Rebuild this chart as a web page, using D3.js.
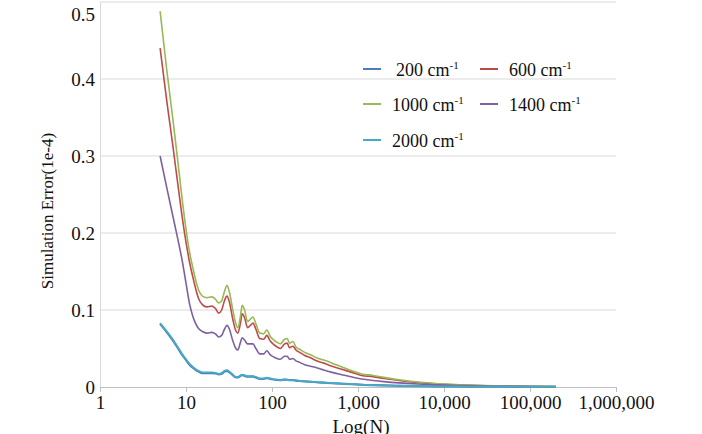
<!DOCTYPE html>
<html><head><meta charset="utf-8">
<script src="https://cdn.jsdelivr.net/npm/d3@7"></script>
<style>
html,body{margin:0;padding:0;background:#fff;}
svg text{font-family:"Liberation Serif","Times New Roman",serif;fill:#111;}
</style></head>
<body><svg id="chart" width="702" height="434"></svg>
<script>
const sampleN = [5,6,7,8,9,10,11,12,13,14,15.5,17.5,20,22,24,26,28,30,32,35,38,40,43,45,48,52,56,60,65,72,80,87,95,105,115,125,140,150,160,175,190,210,240,280,330,400,500,650,850,1100,1500,2000,3000,5000,8000,15000,30000,60000,120000,200000];
const s200 = [0.082,0.071,0.061,0.051,0.042,0.035,0.029,0.025,0.022,0.020,0.018,0.018,0.018,0.0178,0.0165,0.0172,0.020,0.021,0.019,0.0155,0.0125,0.0125,0.0145,0.0155,0.0145,0.0135,0.0135,0.0135,0.0125,0.0105,0.0105,0.0115,0.0105,0.0097,0.0092,0.0088,0.0095,0.0094,0.0088,0.0088,0.0083,0.0078,0.0073,0.0068,0.0062,0.0056,0.0049,0.0042,0.0036,0.0029,0.0024,0.002,0.0015,0.0011,0.0009,0.0007,0.0005,0.0004,0.0003,0.0003];
const s600 = [0.44,0.37,0.315,0.265,0.222,0.188,0.162,0.143,0.127,0.115,0.107,0.104,0.105,0.102,0.096,0.100,0.112,0.118,0.110,0.088,0.073,0.070,0.083,0.095,0.090,0.077,0.080,0.083,0.075,0.063,0.062,0.067,0.060,0.055,0.052,0.050,0.056,0.057,0.051,0.053,0.048,0.045,0.041,0.038,0.034,0.031,0.027,0.023,0.019,0.015,0.0135,0.011,0.0085,0.0058,0.004,0.0027,0.0017,0.0011,0.0007,0.0005];
const s1000 = [0.488,0.41,0.35,0.295,0.245,0.205,0.175,0.155,0.138,0.126,0.118,0.116,0.117,0.114,0.109,0.112,0.124,0.132,0.123,0.100,0.082,0.077,0.092,0.106,0.100,0.085,0.088,0.091,0.082,0.070,0.069,0.074,0.066,0.061,0.058,0.056,0.062,0.063,0.057,0.059,0.052,0.049,0.045,0.042,0.038,0.035,0.031,0.026,0.021,0.017,0.015,0.0125,0.0095,0.0065,0.0045,0.003,0.0019,0.0012,0.0008,0.0006];
const s1400 = [0.300,0.258,0.223,0.193,0.165,0.135,0.108,0.092,0.082,0.076,0.072,0.070,0.071,0.069,0.065,0.067,0.075,0.080,0.075,0.060,0.050,0.048,0.058,0.064,0.061,0.056,0.056,0.056,0.050,0.043,0.043,0.047,0.042,0.039,0.037,0.036,0.040,0.040,0.036,0.037,0.034,0.032,0.029,0.027,0.025,0.022,0.019,0.016,0.013,0.0105,0.0085,0.007,0.0053,0.0038,0.0028,0.0019,0.0013,0.0009,0.0006,0.0004];
const s2000 = [0.083,0.072,0.062,0.052,0.043,0.036,0.030,0.026,0.023,0.021,0.019,0.019,0.019,0.0185,0.017,0.018,0.021,0.022,0.020,0.016,0.013,0.013,0.015,0.016,0.015,0.014,0.014,0.014,0.013,0.011,0.011,0.012,0.011,0.010,0.0095,0.009,0.0098,0.0097,0.009,0.009,0.0085,0.008,0.0075,0.007,0.0063,0.0057,0.005,0.0043,0.0037,0.003,0.0025,0.0021,0.0016,0.0012,0.0009,0.0007,0.0005,0.0004,0.0003,0.0003];
const seriesNames = ["200","600","1000","1400","2000"];
const seriesColors = ["#4a7ebb","#be4b48","#98b954","#7d60a0","#46aac5"];
const xTicks = [1,10,100,1000,10000,100000,1000000];
const yTicks = [0,0.1,0.2,0.3,0.4,0.5];

const seriesValues = [s200,s600,s1000,s1400,s2000];
const svg = d3.select("#chart");
const x = d3.scaleLog().domain([1,1e6]).range([100,616]);
const y = d3.scaleLinear().domain([0,0.5]).range([387,2]);

// gridlines
svg.append("g").selectAll("line").data(yTicks.filter(d=>d>0)).join("line")
  .attr("x1",100).attr("x2",616).attr("y1",d=>y(d)).attr("y2",d=>y(d))
  .attr("stroke","#d9d9d9").attr("stroke-width",1);

// y axis
const ya = svg.append("g").attr("transform","translate(100,0)")
  .call(d3.axisLeft(y).tickValues(yTicks).tickSize(0).tickPadding(5)
    .tickFormat(d=>d===0?"0":d3.format(".1f")(d)));
ya.select(".domain").attr("stroke","#d9d9d9");
ya.selectAll("text").style("font-size","19px").style("font-family","Liberation Serif").attr("fill","#111");
ya.selectAll(".tick").filter(d=>d===0.5).select("text").attr("dy","0.95em");

// x axis
const xa = svg.append("g").attr("transform","translate(0,387)")
  .call(d3.axisBottom(x).tickValues(xTicks).tickSize(5).tickPadding(4).tickFormat(d3.format(",")));
xa.select(".domain").attr("stroke","#bfbfbf");
xa.selectAll(".tick line").attr("stroke","#bfbfbf");
xa.selectAll("text").style("font-size","19px").style("font-family","Liberation Serif").attr("fill","#111");

// lines
const line = d3.line().x((d,i)=>x(sampleN[i])).y(d=>y(d)).curve(d3.curveMonotoneX);
[0,1,2,3,4].forEach(k=>{
  svg.append("path").datum(seriesValues[k]).attr("d",line)
    .attr("fill","none").attr("stroke",seriesColors[k])
    .attr("stroke-width", k===0?2.2:(k===4?1.8:1.6)).attr("stroke-linejoin","round");
});

// axis titles
svg.append("text").attr("transform","translate(53,211) rotate(-90)")
  .attr("text-anchor","middle").style("font-size","17px").text("Simulation Error(1e-4)");
svg.append("text").attr("x",361).attr("y",433).attr("text-anchor","middle")
  .style("font-size","19px").text("Log(N)");

// legend
const legendPos = [
  {k:0, mx:363, tx:396, cy:69},
  {k:1, mx:480, tx:509, cy:69},
  {k:2, mx:363, tx:392, cy:104},
  {k:3, mx:480, tx:509, cy:104},
  {k:4, mx:363, tx:392, cy:140}
];
const lg = svg.append("g");
legendPos.forEach(p=>{
  lg.append("line").attr("x1",p.mx).attr("x2",p.mx+18).attr("y1",p.cy).attr("y2",p.cy)
    .attr("stroke",seriesColors[p.k]).attr("stroke-width",2);
  const t = lg.append("text").attr("x",p.tx).attr("y",p.cy+7).style("font-size","18px");
  t.append("tspan").text(seriesNames[p.k]+" cm");
  t.append("tspan").attr("dy",-7).style("font-size","11px").text("-1");
});
</script></body></html>
